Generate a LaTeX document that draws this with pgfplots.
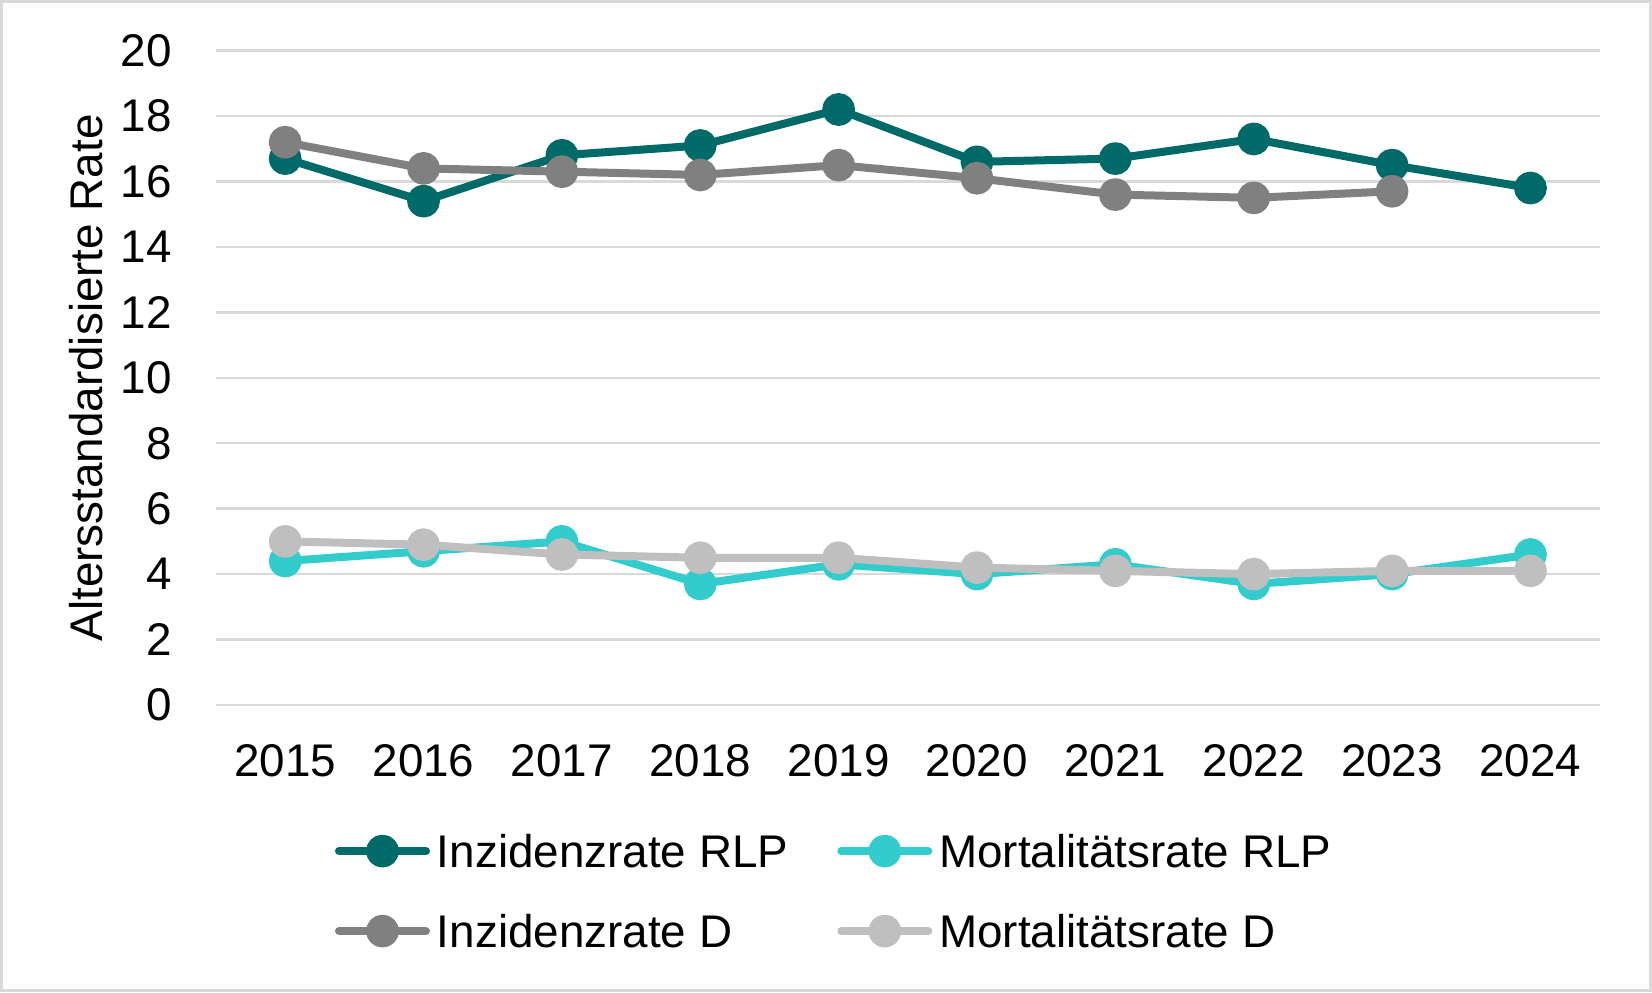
\documentclass[border=0pt]{standalone}
\usepackage{pgfplots}
\pgfplotsset{compat=1.18}
\usepackage{fontspec}
\setmainfont{Liberation Sans}

\definecolor{inzrlp}{HTML}{006A68}
\definecolor{mortrlp}{HTML}{33CCCC}
\definecolor{inzd}{HTML}{808080}
\definecolor{mortd}{HTML}{BFBFBF}
\definecolor{gridc}{HTML}{D9D9D9}

\newcommand{\bigfont}{\fontsize{22.9}{27}\selectfont}

\begin{document}
\begin{tikzpicture}
\useasboundingbox (0,0) rectangle (826pt,496pt);
\draw[gridc, line width=1.5pt] (0.75pt,0.75pt) rectangle (825.25pt,495.25pt);
\begin{axis}[%
  at={(108pt,143.5pt)}, anchor=south west,
  scale only axis,
  width=691.8pt, height=327.2pt,
  xmin=2014.5, xmax=2024.5,
  ymin=0, ymax=20,
  xtick={2015,...,2024},
  ytick={0,2,...,20},
  axis line style={draw=none},
  major tick length=0pt,
  ymajorgrids,
  grid style={gridc, line width=1.25pt},
  /pgf/number format/assume math mode=true,
  /pgf/number format/1000 sep={},
  tick label style={font=\bigfont, inner sep=0pt},
  yticklabel style={anchor=east, xshift=-22pt},
  xticklabel style={anchor=north, yshift=-19.5pt},
  ylabel={Altersstandardisierte Rate},
  every axis y label/.style={at={(axis description cs:-0.0939,0.5)}, anchor=center, rotate=90, font=\bigfont},
  clip=false,
  legend columns=2,
  legend cell align=left,
  legend style={
    at={(axis description cs:0.086,-0.1988)}, anchor=north west,
    draw=none, fill=none, inner sep=0pt, outer sep=0pt,
    font=\bigfont,
    column sep=3.5pt, row sep=24pt,
    nodes={inner sep=0pt, text height=16pt, text depth=0pt},
    /tikz/every even column/.append style={column sep=24.5pt},
  },
  legend image code/.code={%
    \draw[#1, line cap=round, mark=none] (2pt,0pt) -- (45.5pt,0pt);
    \draw[#1, draw=none, only marks] plot coordinates {(23.75pt,0pt)};
  },
  every axis plot/.append style={line width=4pt, line join=round, mark=*, mark size=6.2pt},
]
\addplot[inzrlp, mark options={draw=none, fill=inzrlp}] coordinates {
(2015,16.7) (2016,15.4) (2017,16.8) (2018,17.1) (2019,18.2)
(2020,16.6) (2021,16.7) (2022,17.3) (2023,16.5) (2024,15.8)
};
\addlegendentry{Inzidenzrate RLP}
\addplot[mortrlp, mark options={draw=none, fill=mortrlp}] coordinates {
(2015,4.4) (2016,4.7) (2017,5.0) (2018,3.7) (2019,4.3)
(2020,4.0) (2021,4.3) (2022,3.7) (2023,4.0) (2024,4.6)
};
\addlegendentry{Mortalitätsrate RLP}
\addplot[inzd, mark options={draw=none, fill=inzd}] coordinates {
(2015,17.2) (2016,16.4) (2017,16.3) (2018,16.2) (2019,16.5)
(2020,16.1) (2021,15.6) (2022,15.5) (2023,15.7)
};
\addlegendentry{Inzidenzrate D}
\addplot[mortd, mark options={draw=none, fill=mortd}] coordinates {
(2015,5.0) (2016,4.9) (2017,4.6) (2018,4.5) (2019,4.5)
(2020,4.2) (2021,4.1) (2022,4.0) (2023,4.1) (2024,4.1)
};
\addlegendentry{Mortalitätsrate D}
\end{axis}
\end{tikzpicture}
\end{document}
